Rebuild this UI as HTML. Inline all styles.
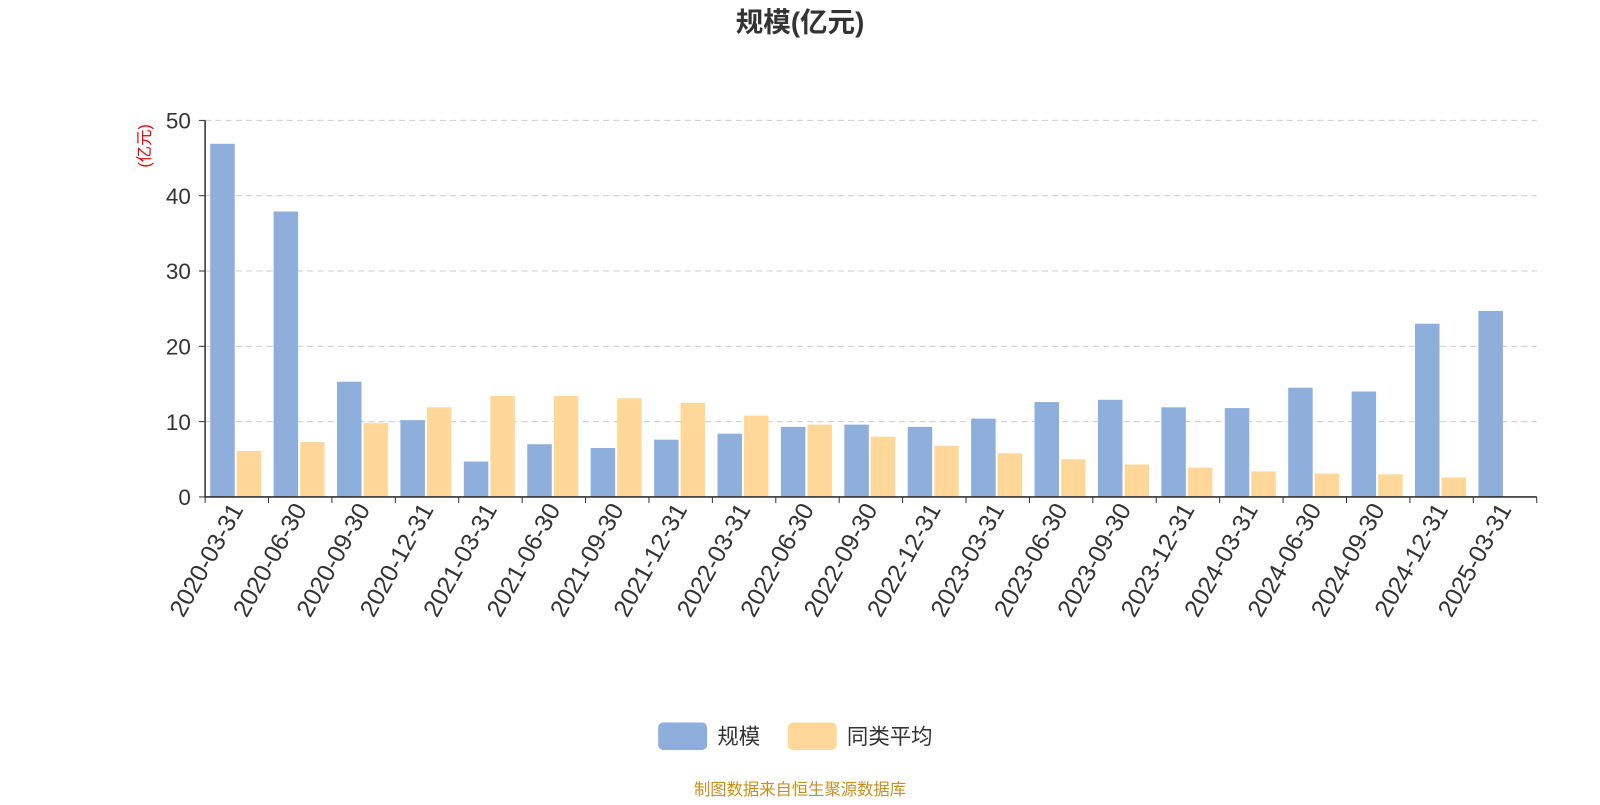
<!DOCTYPE html>
<html><head><meta charset="utf-8"><style>
body{margin:0;background:#fff;}
svg text{font-family:"Liberation Sans","Noto Sans CJK SC",sans-serif;}
</style></head><body>
<svg id="chart" width="1600" height="800" xmlns="http://www.w3.org/2000/svg">
<g transform="scale(1.0204)">
<text x="784" y="31" text-anchor="middle" font-size="27" font-weight="bold" fill="#333">规模(亿元)</text>
<text transform="translate(147,143) rotate(-90)" text-anchor="middle" font-size="16" fill="#e00">(亿元)</text>
<g id="grid"></g><g id="bars"></g><g id="axes"></g>
<g>
<g><rect x="645" y="708" width="48" height="27" rx="5" fill="#8eaedb"/><text x="703" y="729" font-size="21" fill="#333">规模</text></g>
<g><rect x="772" y="708" width="48" height="27" rx="5" fill="#ffd899"/><text x="830" y="729" font-size="21" fill="#333">同类平均</text></g>
</g>
<text x="784" y="779" text-anchor="middle" font-size="16" fill="#c8901a">制图数据来自恒生聚源数据库</text>
</g>
</svg>
<script>
const categories=["2020-03-31","2020-06-30","2020-09-30","2020-12-31","2021-03-31","2021-06-30","2021-09-30","2021-12-31","2022-03-31","2022-06-30","2022-09-30","2022-12-31","2023-03-31","2023-06-30","2023-09-30","2023-12-31","2024-03-31","2024-06-30","2024-09-30","2024-12-31","2025-03-31"];
const scaleValues=[46.9,37.9,15.3,10.2,4.7,7.0,6.5,7.6,8.4,9.3,9.6,9.3,10.4,12.6,12.9,11.9,11.8,14.5,14.0,23.0,24.7];
const avgValues=[6.1,7.3,9.8,11.9,13.4,13.4,13.1,12.5,10.8,9.6,8.0,6.8,5.8,5.0,4.3,3.9,3.4,3.1,3.0,2.6,null];
const yTicks=[0,10,20,30,40,50];
const NS="http://www.w3.org/2000/svg";
const x0=201,x1=1506,y0=487,y1=118,yMax=50;
const band=(x1-x0)/categories.length;
const yS=v=>y0-(v/yMax)*(y0-y1);
const xS=i=>x0+i*band;
function mk(tag,attrs,parent){const e=document.createElementNS(NS,tag);for(const k in attrs)e.setAttribute(k,attrs[k]);parent.appendChild(e);return e;}
const grid=document.getElementById('grid'),bars=document.getElementById('bars'),axes=document.getElementById('axes');
yTicks.forEach(t=>{
  const y=yS(t);
  if(t>0){const l=mk('line',{x1:x0,x2:x1,y1:y,y2:y,stroke:'#ccc','stroke-dasharray':'6,4'},grid);
  
  }
  mk('line',{x1:x0-6,x2:x0,y1:y,y2:y,stroke:'#333'},axes);
  const tx=mk('text',{x:x0-14,y:y+8,'text-anchor':'end','font-size':'22',fill:'#333'},axes);tx.textContent=t;
  
  
});
const bw=24;
categories.forEach((c,i)=>{
  const bx=xS(i)+5;
  if(scaleValues[i]!=null){const r=mk('rect',{x:bx,y:yS(scaleValues[i]),width:bw,height:y0-yS(scaleValues[i]),fill:'#8eaedb'},bars);
  
  }
  if(avgValues[i]!=null){const r=mk('rect',{x:bx+bw+2,y:yS(avgValues[i]),width:bw,height:y0-yS(avgValues[i]),fill:'#ffd899'},bars);
  
  }
  const tx=xS(i);
  mk('line',{x1:tx,x2:tx,y1:y0,y2:y0+6,stroke:'#333'},axes);
  const cx=xS(i)+band/2;
  const t=mk('text',{transform:`translate(${cx+7},${y0+12}) rotate(-61)`,'text-anchor':'end','font-size':'24',fill:'#333'},axes);
  t.textContent=c;
  
  
});
mk('line',{x1:x1,x2:x1,y1:y0,y2:y0+6,stroke:'#333'},axes);
mk('line',{x1:x0,x2:x1,y1:y0,y2:y0,stroke:'#333','stroke-width':1.5},axes);
mk('line',{x1:x0,x2:x0,y1:y1,y2:y0,stroke:'#333','stroke-width':1.5},axes);
</script>
</body></html>
